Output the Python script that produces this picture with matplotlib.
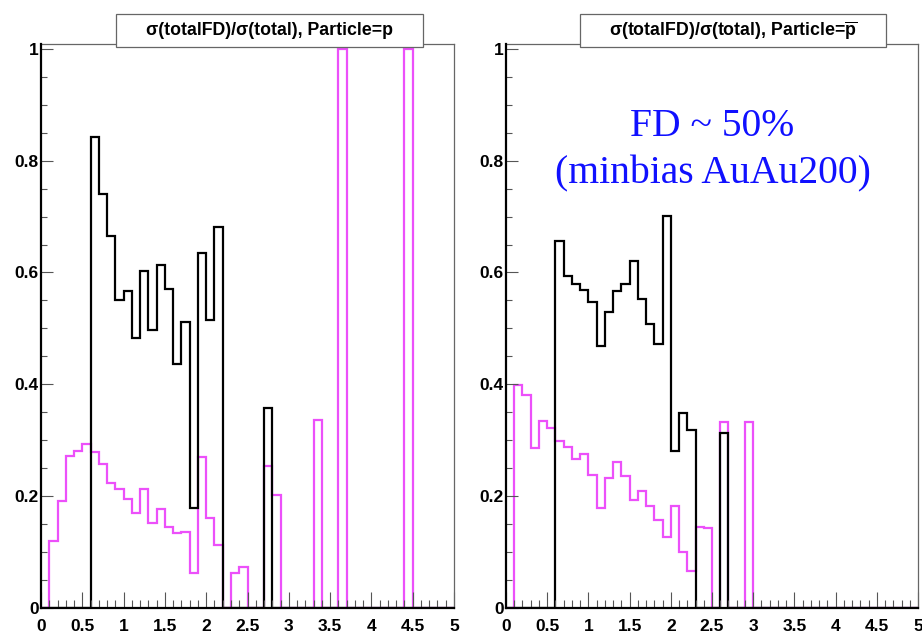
import numpy as np
import matplotlib
matplotlib.use('Agg')
import matplotlib.pyplot as plt
from matplotlib.patches import Rectangle
from matplotlib.ticker import MultipleLocator, FixedLocator

# 50 bins of width 0.1 between 0 and 5
bin_edges = np.linspace(0, 5, 51)

# left panel: Particle = p
p_black = [0, 0, 0, 0, 0, 0, 0.842, 0.741, 0.665, 0.550,
           0.567, 0.483, 0.602, 0.497, 0.613, 0.570, 0.436, 0.511, 0.178, 0.635,
           0.515, 0.682, 0, 0, 0, 0, 0, 0.357, 0, 0,
           0, 0, 0, 0, 0, 0, 0, 0, 0, 0,
           0, 0, 0, 0, 0, 0, 0, 0, 0, 0]
p_magenta = [0, 0.119, 0.191, 0.272, 0.281, 0.293, 0.278, 0.257, 0.224, 0.212,
             0.195, 0.170, 0.212, 0.152, 0.176, 0.145, 0.134, 0.136, 0.062, 0.270,
             0.161, 0.112, 0, 0.062, 0.072, 0, 0, 0.254, 0.201, 0,
             0, 0, 0, 0.336, 0, 0, 1.0, 0, 0, 0,
             0, 0, 0, 0, 1.0, 0, 0, 0, 0, 0]

# right panel: Particle = pbar
pbar_black = [0, 0, 0, 0, 0, 0, 0.657, 0.593, 0.580, 0.569,
              0.548, 0.469, 0.530, 0.566, 0.580, 0.621, 0.552, 0.508, 0.472, 0.701,
              0.281, 0.348, 0.318, 0, 0, 0, 0.312, 0, 0, 0,
              0, 0, 0, 0, 0, 0, 0, 0, 0, 0,
              0, 0, 0, 0, 0, 0, 0, 0, 0, 0]
pbar_magenta = [0, 0.398, 0.381, 0.285, 0.334, 0.321, 0.299, 0.287, 0.266, 0.275,
                0.238, 0.179, 0.233, 0.260, 0.235, 0.192, 0.208, 0.182, 0.157, 0.127,
                0.182, 0.099, 0.066, 0.145, 0.143, 0, 0.332, 0, 0, 0.332,
                0, 0, 0, 0, 0, 0, 0, 0, 0, 0,
                0, 0, 0, 0, 0, 0, 0, 0, 0, 0]

x_ticks = [0, 0.5, 1, 1.5, 2, 2.5, 3, 3.5, 4, 4.5, 5]
x_labels = ['0', '0.5', '1', '1.5', '2', '2.5', '3', '3.5', '4', '4.5', '5']
y_ticks = [0, 0.2, 0.4, 0.6, 0.8, 1.0]
y_labels = ['0', '0.2', '0.4', '0.6', '0.8', '1']

titles = ['\u03c3(totalFD)/\u03c3(total), Particle=p',
          '\u03c3(totalFD)/\u03c3(total), Particle=$\\mathbf{\\overline{p}}$']
note_lines = ['FD ~ 50%', '(minbias AuAu200)']

plt.rcParams['font.family'] = ['Liberation Sans', 'DejaVu Sans']
plt.rcParams['mathtext.fontset'] = 'custom'
plt.rcParams['mathtext.bf'] = 'Liberation Sans:bold'
plt.rcParams['mathtext.rm'] = 'Liberation Sans:bold'

magenta = '#ec50fa'

fig = plt.figure(figsize=(9.22, 6.36), dpi=100)

# axes boxes in pixels: (left, right), title pave (left, right)
panels = [(41, 454, p_black, p_magenta, titles[0], (116, 423)),
          (506, 918, pbar_black, pbar_magenta, titles[1], (580, 886))]

for x0, x1, blk, mag, title, (bx0, bx1) in panels:
    ax = fig.add_axes([x0/922, 1 - 607.7/636, (x1 - x0)/922, (607.7 - 44)/636])
    ax.stairs(mag, bin_edges, color=magenta, lw=1.6, baseline=0)
    ax.stairs(blk, bin_edges, color='black', lw=1.6, baseline=0)
    ax.set_xlim(0, 5)
    ax.set_ylim(0, 1.009)

    ax.xaxis.set_major_locator(FixedLocator(x_ticks))
    ax.xaxis.set_minor_locator(MultipleLocator(0.1))
    ax.yaxis.set_major_locator(FixedLocator(y_ticks))
    ax.yaxis.set_minor_locator(MultipleLocator(0.05))
    ax.set_xticklabels(x_labels)
    ax.set_yticklabels(y_labels)
    ax.tick_params(axis='x', which='major', direction='in', length=11.5, width=0.8,
                   color='#555555', pad=8, labelsize=12.5)
    ax.tick_params(axis='x', which='minor', direction='in', length=5.8, width=0.8,
                   color='#555555')
    ax.tick_params(axis='y', which='major', direction='in', length=8.5, width=0.8,
                   color='#555555', pad=1.5, labelsize=12.5)
    ax.tick_params(axis='y', which='minor', direction='in', length=4.3, width=0.8,
                   color='#555555')
    for lab in ax.get_xticklabels() + ax.get_yticklabels():
        lab.set_fontweight('bold')

    for side in ['left', 'bottom']:
        ax.spines[side].set_linewidth(1.6)
        ax.spines[side].set_color('black')
        ax.spines[side].set_zorder(5)
    for side in ['top', 'right']:
        ax.spines[side].set_linewidth(0.9)
        ax.spines[side].set_color('#666666')

    # title pave
    box = Rectangle((bx0/922, 1 - 47/636), (bx1 - bx0)/922, 33/636,
                    transform=fig.transFigure, facecolor='white',
                    edgecolor='#666666', lw=0.9, zorder=10)
    fig.add_artist(box)
    fig.text((bx0 + bx1)/2/922, 1 - 30.5/636, title, ha='center', va='center',
             fontsize=12.8, fontweight='bold', zorder=11)

fig.text(712.5/922, 1 - 135.7/636, note_lines[0], ha='center', va='baseline',
         fontsize=28.5, color='#1010ff', family='Liberation Serif')
fig.text(712.5/922, 1 - 183/636, note_lines[1], ha='center', va='baseline',
         fontsize=28.5, color='#1010ff', family='Liberation Serif')

fig.savefig('out.png', dpi=100)
